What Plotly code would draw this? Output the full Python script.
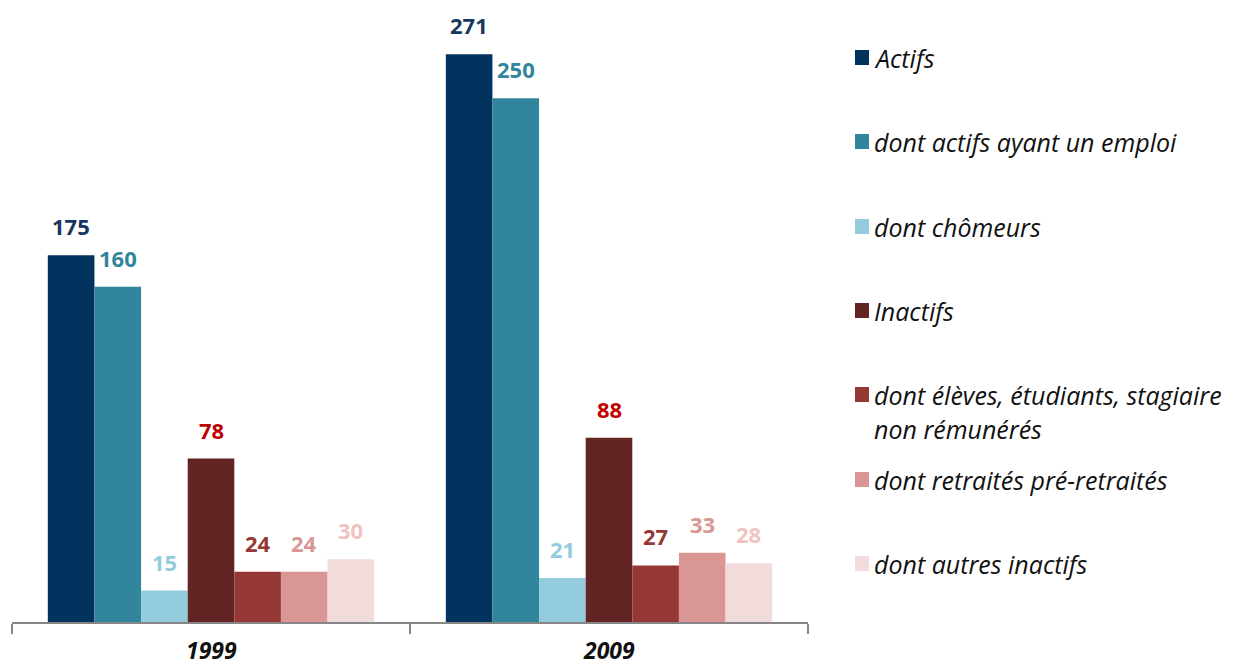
import plotly.graph_objects as go

categories = ["1999", "2009"]
series_names = [
    "Actifs",
    "dont actifs ayant un emploi",
    "dont chômeurs",
    "Inactifs",
    "dont élèves, étudiants, stagiaire<br>non rémunérés",
    "dont retraités pré-retraités",
    "dont autres inactifs",
]
actifs = [175, 271]
actifs_emploi = [160, 250]
chomeurs = [15, 21]
inactifs = [78, 88]
eleves = [24, 27]
retraites = [24, 33]
autres = [30, 28]
series_values = [actifs, actifs_emploi, chomeurs, inactifs, eleves, retraites, autres]

bar_colors = ["#02335F", "#31859C", "#93CDDD", "#632523", "#953735", "#D99694", "#F2DCDB"]
label_colors = ["#17375E", "#31859C", "#93CDDD", "#C00000", "#953735", "#D99694", "#EFC3C3"]

FONT = "Open Sans"
OFF = 8  # page body margin
W, H = 1228, 662
ML, MT = 4, 12
PW = 796
MR = W - ML - PW
MB = 48
PH = H - MT - MB
BARGAP = 0.18
NSER = len(series_names)

fig = go.Figure()
for name, vals, bc in zip(series_names, series_values, bar_colors):
    fig.add_trace(go.Bar(
        name=name, x=categories, y=vals,
        marker=dict(color=bc, line=dict(width=0)),
        showlegend=False,
    ))

annotations = []
# value labels above each bar (positioned from the data values)
bar_px = PW / len(categories) * (1 - BARGAP) / NSER
for i, (vals, lc) in enumerate(zip(series_values, label_colors)):
    for j, v in enumerate(vals):
        annotations.append(dict(
            x=j, y=v, xref="x", yref="y", showarrow=False,
            xanchor="center", yanchor="bottom",
            xshift=(i - (NSER - 1) / 2) * bar_px, yshift=12,
            text=str(v),
            font=dict(family=FONT, size=22, color=lc, weight="bold"),
        ))

# category labels
for j, cat in enumerate(categories):
    annotations.append(dict(
        x=j, y=0, xref="x", yref="paper", showarrow=False,
        xanchor="center", yanchor="top", yshift=-11, borderpad=0,
        text=cat,
        font=dict(family=FONT, size=23, color="#111111", weight="bold", style="italic"),
    ))

def px_x(px):
    return (px - OFF - ML) / PW

def px_y(py):
    return (H - MB - (py - OFF)) / PH

LFS = 25
legend_y = [58, 142, 227, 311, 395, 480, 564]
shapes = []
for name, col, ly in zip(series_names, bar_colors, legend_y):
    shapes.append(dict(type="rect", xref="paper", yref="paper",
                       x0=px_x(855), x1=px_x(869), y0=px_y(ly + 7), y1=px_y(ly - 8),
                       fillcolor=col, line=dict(width=0)))
    for k, line in enumerate(name.split("<br>")):
        annotations.append(dict(xref="paper", yref="paper", x=px_x(872), y=px_y(ly - 19 + 34 * k),
                                xanchor="left", yanchor="top", align="left",
                                text=line, showarrow=False,
                                font=dict(family=FONT, size=LFS, color="#111111", style="italic")))

fig.update_layout(
    width=W, height=H,
    margin=dict(l=ML, r=MR, t=MT, b=MB),
    paper_bgcolor="white", plot_bgcolor="white",
    barmode="group", bargap=BARGAP, bargroupgap=0,
    shapes=shapes, annotations=annotations,
    xaxis=dict(
        type="category",
        range=[-0.5, 1.5], showgrid=False, zeroline=False,
        showline=True, linecolor="#868686", linewidth=1.5,
        ticks="outside", tickson="boundaries", ticklen=10, tickcolor="#868686", tickwidth=1.5,
        showticklabels=False,
    ),
    yaxis=dict(range=[0, PH / 2.095], visible=False, showgrid=False, zeroline=False),
)

fig.write_html("out.html")
